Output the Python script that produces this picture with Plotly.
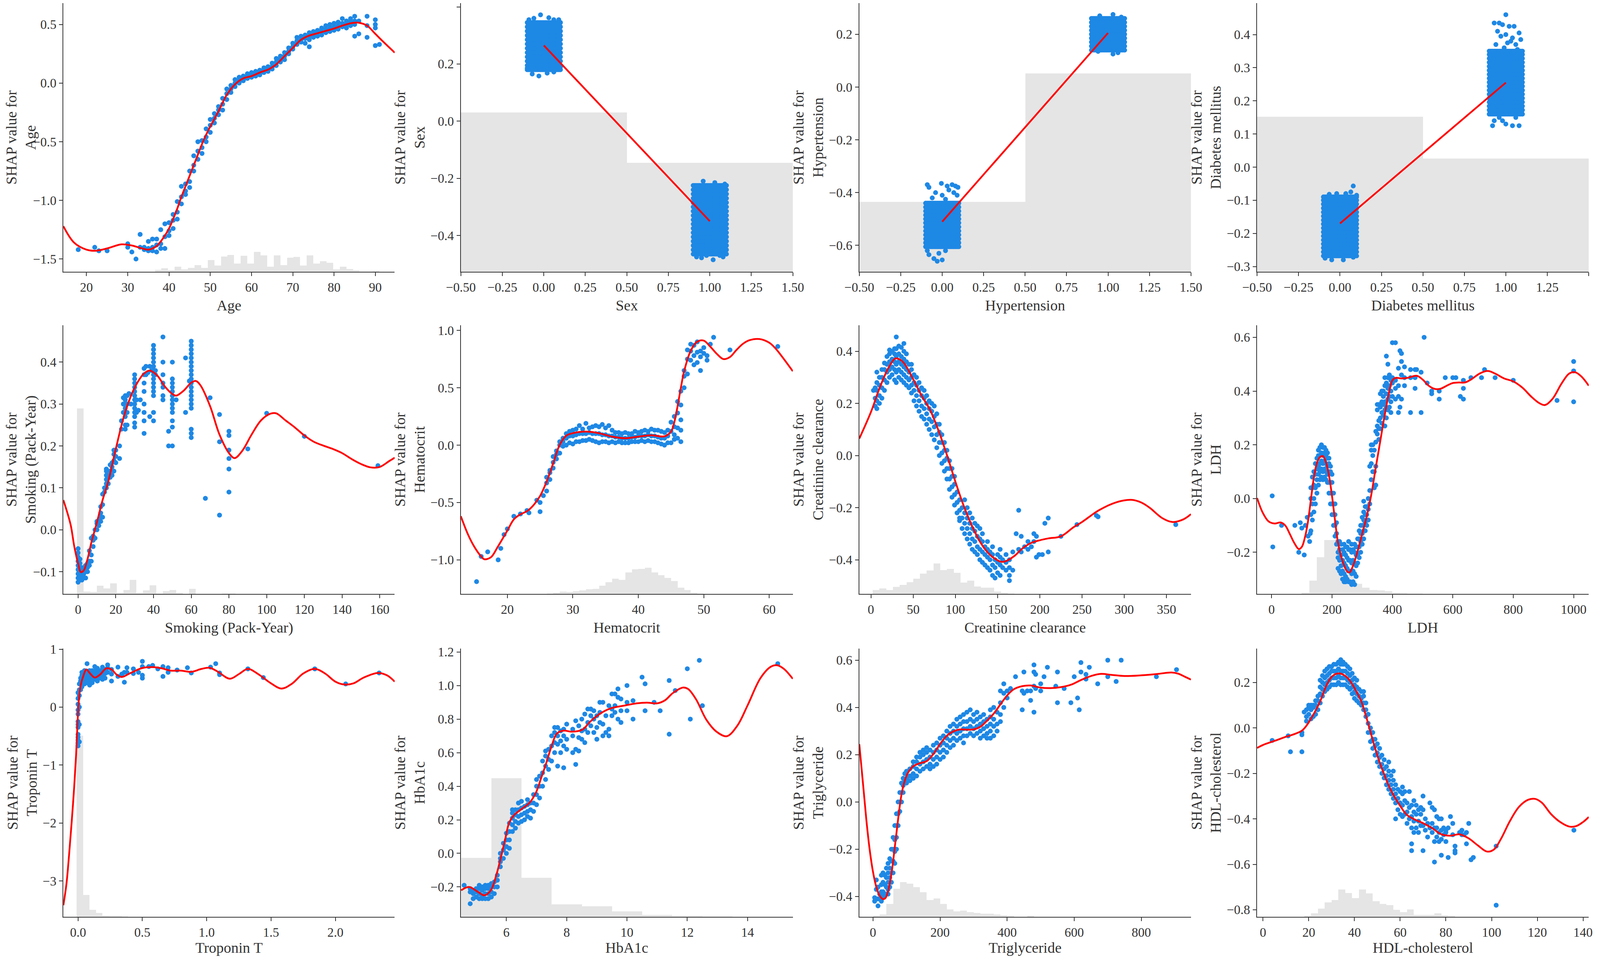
import plotly.graph_objects as go

BLUE = "#1E88E5"
RED = "#FF0000"
GREY = "#E5E5E5"
INK = "#333333"
FONT = "Liberation Serif"

FEATURES = ["Age", "Sex", "Hypertension", "Diabetes mellitus",
            "Smoking (Pack-Year)", "Hematocrit", "Creatinine clearance", "LDH",
            "Troponin T", "HbA1c", "Triglyceride", "HDL-cholesterol"]

# ***** Age ***** #
AGE_PTS = [
    (18, [-1.42]), (22, [-1.40]), (23, [-1.43]), (25, [-1.43]), (30, [-1.37, -1.40]),
    (31, [-1.44]), (32, [-1.50]), (33, [-1.29, -1.40]), (34, [-1.40, -1.42]),
    (35, [-1.35, -1.41, -1.43]), (36, [-1.33, -1.40, -1.43]), (37, [-1.33, -1.38, -1.44]),
    (38, [-1.25, -1.37, -1.41]), (39, [-1.20, -1.31, -1.41]), (40, [-1.19, -1.26, -1.30]),
    (41, [-1.12, -1.17, -1.24]), (42, [-1.01, -1.10, -1.16]), (43, [-0.88, -0.97, -1.03]),
    (44, [-0.86, -0.92, -0.95]), (45, [-0.75, -0.84, -0.89]), (46, [-0.62, -0.70, -0.75]),
    (47, [-0.50, -0.58, -0.65]), (48, [-0.49, -0.55, -0.60]), (49, [-0.39, -0.46, -0.50]),
    (50, [-0.36, -0.42, -0.31]), (51, [-0.26, -0.34, -0.30]), (52, [-0.20, -0.27, -0.23]),
    (53, [-0.18, -0.23, -0.13]), (54, [-0.09, -0.14, -0.05]), (55, [-0.02, -0.08, -0.05]),
    (56, [0.03, -0.03, 0.0]), (57, [0.05, 0.0, 0.02]), (58, [0.06, 0.02, 0.04]),
    (59, [0.08, 0.04, 0.06]), (60, [0.09, 0.05, 0.07]), (61, [0.10, 0.06, 0.08]),
    (62, [0.11, 0.07, 0.09]), (63, [0.13, 0.09, 0.11]), (64, [0.14, 0.10, 0.12]),
    (65, [0.17, 0.12, 0.14]), (66, [0.21, 0.15, 0.18]), (67, [0.23, 0.18, 0.20]),
    (68, [0.26, 0.20, 0.23]), (69, [0.30, 0.25, 0.27]), (70, [0.34, 0.29, 0.31]),
    (71, [0.39, 0.33, 0.36]), (72, [0.40, 0.35, 0.37]), (73, [0.41, 0.34, 0.38]),
    (74, [0.43, 0.37, 0.31, 0.40]), (75, [0.44, 0.39, 0.41]), (76, [0.45, 0.40, 0.43]),
    (77, [0.47, 0.41, 0.44]), (78, [0.49, 0.43, 0.46]), (79, [0.50, 0.44, 0.47]),
    (80, [0.51, 0.45, 0.48]), (81, [0.52, 0.46, 0.49]), (82, [0.55, 0.48, 0.51]),
    (83, [0.53, 0.47, 0.50]), (84, [0.55, 0.49, 0.52]), (85, [0.57, 0.50, 0.40, 0.53]),
    (86, [0.53, 0.42]), (88, [0.57, 0.49, 0.39]), (90, [0.54, 0.50, 0.47, 0.32]), (91, [0.33]),
]
AGE_CURVE_X = [14.4, 17, 20, 22, 25, 28.5, 31, 33, 35, 36, 37, 38, 39, 40, 41, 42, 43, 44, 45,
               46, 47, 48, 49, 50, 52, 54, 56, 58, 60, 62, 64, 65, 66, 68, 70, 72, 74, 76, 78,
               80, 82, 84, 85, 86, 88, 90, 92, 94.7]
AGE_CURVE_Y = [-1.22, -1.36, -1.42, -1.43, -1.41, -1.375, -1.385, -1.405, -1.42, -1.41, -1.39,
               -1.35, -1.30, -1.24, -1.16, -1.07, -0.97, -0.88, -0.79, -0.70, -0.61, -0.52,
               -0.44, -0.37, -0.24, -0.10, -0.01, 0.04, 0.06, 0.09, 0.115, 0.135, 0.16, 0.23,
               0.30, 0.37, 0.405, 0.425, 0.445, 0.465, 0.49, 0.51, 0.515, 0.515, 0.49, 0.42,
               0.35, 0.26]
AGE_HIST = [0.008, 0.013, 0.006, 0.019, 0.009, 0.014, 0.025, 0.014, 0.044, 0.023, 0.057,
            0.062, 0.03, 0.059, 0.03, 0.074, 0.061, 0.019, 0.061, 0.025, 0.053, 0.055, 0.023,
            0.061, 0.03, 0.039, 0.034, 0.009, 0.019, 0.011, 0.006, 0.002, 0.001, 0.003]
AGE_BIN = (37.4, 1.6)

# ***** binary features (0 / 1) ***** #
JITTER = [-0.1, -0.09, -0.08, -0.07, -0.06, -0.05, -0.04, -0.03, -0.02, -0.01, 0.0,
          0.01, 0.02, 0.03, 0.04, 0.05, 0.06, 0.07, 0.08, 0.09, 0.1]

SEX_ROWS_0 = [0.18, 0.195, 0.21, 0.225, 0.24, 0.255, 0.27, 0.285, 0.30, 0.315, 0.33, 0.345]
SEX_ROWS_1 = [-0.465, -0.45, -0.435, -0.42, -0.405, -0.39, -0.375, -0.36, -0.345, -0.33,
              -0.315, -0.30, -0.285, -0.27, -0.255, -0.24, -0.225]
SEX_EXTRA_X = [-0.09, -0.06, -0.02, 0.03, 0.06, 0.09, -0.07, -0.03, 0.02, 0.06, -0.1, 0.1,
               0.96, 1.03, 1.09, 0.92, 0.95, 0.98, 1.02, 1.06, 1.08]
SEX_EXTRA_Y = [0.355, 0.36, 0.372, 0.362, 0.355, 0.355, 0.165, 0.158, 0.168, 0.172, 0.185, 0.19,
               -0.21, -0.215, -0.22, -0.475, -0.478, -0.47, -0.485, -0.47, -0.475]
SEX_LINE_Y = [0.265, -0.35]
SEX_HIST = [0.593, 0.406]

HYP_ROWS_0 = [-0.605, -0.59, -0.575, -0.56, -0.545, -0.53, -0.515, -0.50, -0.485, -0.47,
              -0.455, -0.44]
HYP_ROWS_1 = [0.14, 0.155, 0.17, 0.185, 0.20, 0.215, 0.23, 0.245, 0.26]
HYP_EXTRA_X = [-0.09, -0.08, -0.005, 0.03, 0.06, 0.08, 0.095, -0.04, 0.0, 0.07, 0.09, 0.04,
               -0.06, 0.02, -0.09, -0.08, -0.05, -0.03, 0.0, -0.02, 0.02,
               0.95, 1.03, 1.08, 1.03, 1.06, 0.94]
HYP_EXTRA_Y = [-0.37, -0.38, -0.365, -0.375, -0.37, -0.375, -0.38, -0.40, -0.41, -0.40, -0.41,
               -0.39, -0.42, -0.425, -0.62, -0.635, -0.65, -0.66, -0.655, -0.63, -0.62,
               0.27, 0.275, 0.265, 0.125, 0.13, 0.135]
HYP_LINE_Y = [-0.51, 0.205]
HYP_HIST = [0.260, 0.738]

DM_ROWS_0 = [-0.268, -0.256, -0.244, -0.232, -0.220, -0.208, -0.196, -0.184, -0.172, -0.160,
             -0.148, -0.136, -0.124, -0.112, -0.100, -0.090]
DM_ROWS_1 = [0.16, 0.172, 0.184, 0.196, 0.208, 0.22, 0.232, 0.244, 0.256, 0.268, 0.28, 0.292,
             0.304, 0.316, 0.328, 0.34, 0.35]
DM_EXTRA_X = [0.08, 0.065, 0.035, -0.02, -0.065, 0.1, -0.09, -0.05, 0.02, 0.08, 0.09,
              1.0, 0.93, 0.96, 0.98, 1.02, 1.05, 1.08, 0.95, 0.97, 1.0, 1.04, 1.01, 1.03, 1.09,
              0.94, 1.06, 0.99, 1.07, 0.93, 0.92, 0.96, 0.98, 1.0, 1.04, 1.08, 1.06, 0.95]
DM_EXTRA_Y = [-0.057, -0.075, -0.08, -0.08, -0.082, -0.085, -0.275, -0.28, -0.28, -0.272, -0.24,
              0.46, 0.435, 0.435, 0.43, 0.425, 0.425, 0.405, 0.41, 0.395, 0.40, 0.39, 0.375,
              0.38, 0.385, 0.37, 0.37, 0.36, 0.355, 0.14, 0.125, 0.15, 0.14, 0.13, 0.125, 0.125,
              0.15, 0.16]
DM_LINE_Y = [-0.17, 0.255]
DM_HIST = [0.577, 0.421]

# ***** Smoking ***** #
SMK_PTS = [
    (0, [-0.125, -0.115, -0.105, -0.095, -0.085, -0.075, -0.065, -0.055, -0.045]),
    (1, [-0.12, -0.11, -0.10, -0.09, -0.08, -0.07]), (2, [-0.12, -0.11, -0.10, -0.09]),
    (3, [-0.115, -0.105, -0.095]), (4, [-0.115, -0.10, -0.085]), (5, [-0.10, -0.09, -0.08]),
    (6, [-0.085, -0.075, -0.05]), (7, [-0.075, -0.06, -0.02]), (8, [-0.04, -0.025, -0.015]),
    (9, [-0.02, 0.0]), (10, [0.0, 0.015, 0.02]), (11, [0.01, 0.02]),
    (12, [0.02, 0.03, 0.04, 0.055]), (13, [0.03, 0.06, 0.085]), (14, [0.09, 0.10]),
    (15, [0.10, 0.11, 0.12, 0.13, 0.14, 0.145]), (16, [0.11, 0.13]), (17, [0.125, 0.14, 0.155]),
    (18, [0.13, 0.15, 0.16]), (19, [0.14, 0.165, 0.18, 0.19]), (20, [0.16, 0.175, 0.19]),
    (22, [0.17, 0.20]), (23, [0.24, 0.26]), (24, [0.28, 0.30, 0.315]),
    (25, [0.24, 0.25, 0.27, 0.29, 0.31, 0.32]), (26, [0.25, 0.28, 0.30, 0.32]), (27, [0.325]),
    (28, [0.30]),
    (30, [0.245, 0.255, 0.27, 0.28, 0.29, 0.30, 0.31, 0.32, 0.33, 0.34, 0.35, 0.36, 0.37]),
    (31, [0.28, 0.31]), (32, [0.285]), (33, [0.31]),
    (35, [0.23, 0.26, 0.28, 0.30, 0.33, 0.35, 0.37, 0.385]), (36, [0.37, 0.39]), (37, [0.375]),
    (38, [0.27, 0.39]), (39, [0.38]),
    (40, [0.26, 0.28, 0.32, 0.33, 0.34, 0.35, 0.36, 0.37, 0.38, 0.39, 0.40, 0.41, 0.42, 0.43, 0.44]),
    (41, [0.37, 0.38]), (45, [0.31, 0.32, 0.34, 0.35, 0.37, 0.40, 0.46]), (48, [0.20, 0.235]),
    (50, [0.20, 0.245, 0.26, 0.28, 0.29, 0.30, 0.31, 0.32, 0.33, 0.34, 0.35, 0.36, 0.40]),
    (52, [0.31]), (57, [0.28, 0.41]), (59, [0.355]),
    (60, [0.22, 0.23, 0.24, 0.29, 0.30, 0.31, 0.32, 0.33, 0.34, 0.35, 0.36, 0.37, 0.38, 0.39,
          0.40, 0.41, 0.42, 0.43, 0.44, 0.45]),
    (67.5, [0.075]), (70, [0.315]), (75, [0.035, 0.21, 0.275]),
    (80, [0.09, 0.145, 0.17, 0.19, 0.225, 0.235]), (90, [0.193]), (100, [0.278]),
    (120, [0.223]), (159, [0.153]),
]
SMK_CURVE_X = [-7.8, -4, -2, 0, 1.5, 3, 5, 7, 10, 13, 16, 20, 25, 30, 35, 38, 42, 46, 50, 52,
               56, 60, 62.5, 65, 70, 75, 80, 83, 87, 92, 97, 102, 105, 110, 115, 120, 125, 130,
               135, 140, 145, 150, 155, 160, 165, 167.9]
SMK_CURVE_Y = [0.071, 0.013, -0.04, -0.08, -0.101, -0.097, -0.07, -0.031, 0.018, 0.071, 0.115,
               0.193, 0.281, 0.339, 0.373, 0.38, 0.368, 0.342, 0.324, 0.32, 0.332, 0.351, 0.355,
               0.344, 0.295, 0.227, 0.183, 0.171, 0.188, 0.227, 0.261, 0.277, 0.278, 0.261,
               0.244, 0.225, 0.21, 0.201, 0.193, 0.183, 0.169, 0.157, 0.149, 0.15, 0.164, 0.172]
SMK_HIST = [0.69, 0.009, 0.008, 0.03, 0.021, 0.04, 0.003, 0.014, 0.052, 0.003, 0.013, 0.032,
            0.002, 0.011, 0.015, 0.003, 0.0, 0.019, 0.0, 0.0, 0.0, 0.0, 0.001, 0.002]
SMK_BIN = (1.25, 3.5)

# ***** Hematocrit ***** #
HCT_PTS = [
    (15.3, [-1.19]), (16, [-0.97]), (17, [-0.93]), (18.6, [-1.0]), (19, [-0.9]), (19.5, [-0.78]),
    (20, [-0.73]), (21, [-0.62]), (22, [-0.60]), (23, [-0.57]), (23.3, [-0.59]),
    (24.5, [-0.48]), (25, [-0.58, -0.50]), (25.5, [-0.44]),
    (26, [-0.40, -0.33, -0.28]), (26.5, [-0.30, -0.24, -0.22]), (27, [-0.20, -0.15, -0.10]),
    (27.5, [-0.12, -0.08, -0.05]), (28, [-0.07, 0.0, 0.03]), (28.5, [-0.01, 0.03, 0.06]),
    (29, [0.0, 0.06, 0.10]), (29.5, [0.02, 0.08, 0.12]), (30, [0.01, 0.08, 0.13]),
    (30.5, [0.03, 0.09, 0.14]), (31, [0.03, 0.10, 0.17]), (31.5, [0.04, 0.10, 0.14]),
    (32, [0.04, 0.10, 0.19]), (32.5, [0.05, 0.11, 0.15]), (33, [0.04, 0.10, 0.16]),
    (33.5, [0.03, 0.10, 0.17]), (34, [0.02, 0.10, 0.16]), (34.5, [0.03, 0.09, 0.18]),
    (35, [0.03, 0.09, 0.15]), (35.5, [0.02, 0.08, 0.17]), (36, [0.03, 0.08, 0.13]),
    (36.5, [0.02, 0.07, 0.11]), (37, [0.03, 0.07, 0.11]), (37.5, [0.02, 0.06, 0.10]),
    (38, [0.02, 0.06, 0.11]), (38.5, [0.02, 0.06, 0.10]), (39, [0.03, 0.07, 0.10]),
    (39.5, [0.03, 0.07, 0.12]), (40, [0.03, 0.08, 0.11]), (40.5, [0.04, 0.08, 0.12]),
    (41, [0.03, 0.08, 0.13]), (41.5, [0.04, 0.09, 0.12]), (42, [0.03, 0.08, 0.14]),
    (42.5, [0.03, 0.08, 0.13]), (43, [0.02, 0.07, 0.13]), (43.5, [0.01, 0.06, 0.12]),
    (44, [0.0, 0.06, 0.11]), (44.5, [0.02, 0.08, 0.13]), (45, [0.02, 0.12, 0.20]),
    (45.5, [0.05, 0.09, 0.16, 0.25]), (46, [0.06, 0.15, 0.28, 0.38]),
    (46.5, [0.03, 0.13, 0.22, 0.35, 0.47]), (47, [0.50, 0.60, 0.65]),
    (47.5, [0.62, 0.75, 0.83]), (48, [0.74, 0.82, 0.88]), (48.5, [0.70, 0.78, 0.87]),
    (49, [0.72, 0.81, 0.90]), (49.5, [0.65, 0.77, 0.82]), (50, [0.80, 0.85]),
    (50.5, [0.74, 0.78]), (51, [0.88]), (51.5, [0.94]), (54, [0.83]), (61.3, [0.86]),
]
HCT_CURVE_X = [12.9, 14, 15, 16, 16.5, 17.5, 18.5, 20, 21, 22, 23, 24, 25, 26, 27, 28, 29, 30,
               32, 34, 36, 38, 40, 42, 44, 45, 45.5, 46, 46.5, 47, 48, 49, 50, 51, 52, 53, 54,
               55, 56, 57, 58.5, 60, 61, 62, 63.6]
HCT_CURVE_Y = [-0.62, -0.78, -0.89, -0.97, -0.995, -0.977, -0.89, -0.745, -0.647, -0.603,
               -0.576, -0.523, -0.443, -0.318, -0.158, 0.003, 0.083, 0.104, 0.118, 0.104, 0.074,
               0.06, 0.074, 0.086, 0.077, 0.118, 0.2, 0.34, 0.5, 0.644, 0.822, 0.902, 0.911,
               0.858, 0.795, 0.75, 0.768, 0.83, 0.884, 0.915, 0.925, 0.893, 0.84, 0.768, 0.644]
HCT_HIST = [0.002, 0.005, 0.009, 0.008, 0.01, 0.013, 0.017, 0.019, 0.03, 0.043, 0.057, 0.052,
            0.08, 0.091, 0.093, 0.097, 0.08, 0.07, 0.059, 0.048, 0.023, 0.014, 0.005, 0.002]
HCT_BIN = (26.5, 1.0)

# ***** Creatinine clearance ***** #
CC_PTS = [
    (3, [0.25]), (5, [0.19, 0.22, 0.26]), (7, [0.18, 0.21, 0.25, 0.28, 0.32]),
    (10, [0.20, 0.23, 0.27, 0.30]), (13, [0.22, 0.26, 0.30, 0.33]),
    (16, [0.25, 0.29, 0.33, 0.355]), (19, [0.28, 0.32, 0.35, 0.38]),
    (22, [0.30, 0.33, 0.36, 0.39, 0.405]), (25, [0.31, 0.34, 0.37, 0.40]),
    (28, [0.29, 0.33, 0.36, 0.39, 0.41]), (30, [0.28, 0.32, 0.35, 0.38, 0.41, 0.455]),
    (33, [0.30, 0.33, 0.36, 0.39, 0.42]), (36, [0.29, 0.32, 0.35, 0.38, 0.415]),
    (39, [0.28, 0.31, 0.34, 0.37, 0.40, 0.43]), (42, [0.27, 0.30, 0.33, 0.36, 0.39]),
    (45, [0.26, 0.29, 0.32, 0.35]), (48, [0.24, 0.27, 0.30, 0.33, 0.35]),
    (51, [0.21, 0.25, 0.28, 0.31]), (54, [0.19, 0.23, 0.27, 0.30]),
    (57, [0.17, 0.21, 0.25, 0.28]), (60, [0.15, 0.19, 0.23, 0.26]),
    (63, [0.14, 0.18, 0.22, 0.25]), (66, [0.12, 0.16, 0.20, 0.23]),
    (69, [0.10, 0.14, 0.18, 0.21]), (72, [0.08, 0.13, 0.17, 0.20]),
    (75, [0.06, 0.11, 0.15, 0.19]), (78, [0.03, 0.08, 0.12, 0.16]),
    (81, [0.0, 0.05, 0.09, 0.12]), (84, [-0.03, 0.01, 0.05, 0.08]),
    (87, [-0.06, -0.02, 0.02, 0.05]), (90, [-0.09, -0.05, -0.01, 0.02]),
    (93, [-0.13, -0.09, -0.05, -0.02]), (96, [-0.16, -0.12, -0.08, -0.05]),
    (99, [-0.19, -0.15, -0.11, -0.08]), (102, [-0.22, -0.18, -0.14]),
    (105, [-0.25, -0.21, -0.17, -0.24]), (108, [-0.28, -0.24, -0.20]),
    (111, [-0.30, -0.26, -0.22, -0.17]), (114, [-0.32, -0.28, -0.24, -0.20]),
    (117, [-0.34, -0.30, -0.26, -0.22]), (120, [-0.36, -0.32, -0.28, -0.24]),
    (123, [-0.37, -0.33, -0.29, -0.26]), (126, [-0.38, -0.35, -0.31, -0.27]),
    (129, [-0.40, -0.36, -0.32, -0.28]), (132, [-0.41, -0.37, -0.33, -0.30]),
    (135, [-0.42, -0.38, -0.35]), (138, [-0.43, -0.39, -0.36, -0.33]),
    (141, [-0.44, -0.40, -0.37]), (144, [-0.46, -0.42, -0.38, -0.35]),
    (147, [-0.47, -0.43, -0.40]), (150, [-0.45, -0.41, -0.38]),
    (153, [-0.46, -0.42, -0.39, -0.36]), (156, [-0.43, -0.40]), (160, [-0.44, -0.41, -0.38]),
    (164, [-0.48, -0.46, -0.43, -0.40]), (168, [-0.44, -0.37]), (172, [-0.30]),
    (175, [-0.21, -0.36]), (178, [-0.31, -0.37]), (182, [-0.35]), (186, [-0.33, -0.36]),
    (190, [-0.35]), (193, [-0.30, -0.33]), (196, [-0.31, -0.39]), (199, [-0.38]),
    (203, [-0.38]), (206, [-0.26]), (210, [-0.24, -0.37]), (225, [-0.31]), (244, [-0.265]),
    (267, [-0.23]), (269, [-0.235]), (361, [-0.265]),
]
CC_CURVE_X = [-13.8, 0, 10, 20, 28, 30, 35, 40, 50, 60, 70, 80, 90, 100, 110, 120, 130, 140,
              150, 155, 160, 170, 180, 190, 200, 210, 225, 240, 250, 270, 290, 308, 320, 330,
              345, 357, 370, 379]
CC_CURVE_Y = [0.065, 0.167, 0.257, 0.332, 0.371, 0.373, 0.367, 0.351, 0.293, 0.23, 0.175, 0.096,
              0.002, -0.10, -0.194, -0.272, -0.335, -0.378, -0.402, -0.408, -0.405, -0.385,
              -0.355, -0.335, -0.325, -0.318, -0.31, -0.275, -0.255, -0.21, -0.18, -0.17,
              -0.18, -0.20, -0.24, -0.255, -0.245, -0.225]
CC_HIST = [0.015, 0.02, 0.015, 0.027, 0.034, 0.044, 0.057, 0.076, 0.087, 0.113, 0.089, 0.093,
           0.078, 0.042, 0.049, 0.028, 0.024, 0.024, 0.009, 0.005, 0.002]
CC_BIN = (6, 8)

# ***** LDH ***** #
LDH_PTS = [
    (2, [0.01]), (4, [-0.18]), (33, [-0.10]), (77, [-0.10]), (90, [-0.20]), (95, [-0.09]),
    (100, [-0.11]), (108, [-0.21]), (112, [-0.10]), (118, [-0.07]), (121, [-0.14]),
    (126, [-0.16]), (128, [-0.13]),
    (130, [-0.12, -0.06, 0.0, 0.04]), (135, [-0.08, -0.02, 0.04, 0.08]),
    (140, [-0.05, 0.0, 0.05, 0.10]), (145, [-0.02, 0.04, 0.09, 0.13]),
    (150, [0.02, 0.07, 0.11, 0.15]), (155, [0.05, 0.09, 0.12, 0.16, 0.18]),
    (160, [0.07, 0.10, 0.13, 0.16, 0.19]), (165, [0.08, 0.11, 0.14, 0.17, 0.20]),
    (170, [0.07, 0.10, 0.13, 0.16, 0.19]), (175, [0.08, 0.11, 0.14, 0.17, 0.19]),
    (180, [0.07, 0.10, 0.13, 0.16, 0.18]), (185, [0.06, 0.09, 0.12, 0.15, 0.17]),
    (190, [0.02, 0.06, 0.10, 0.13, 0.15]), (195, [-0.02, 0.02, 0.06, 0.10, 0.12]),
    (200, [-0.06, -0.02, 0.02, 0.06, 0.09]), (205, [-0.10, -0.06, -0.02, 0.02]),
    (210, [-0.14, -0.10, -0.06, -0.02]), (215, [-0.17, -0.13, -0.09]),
    (220, [-0.26, -0.22, -0.20, -0.16]), (225, [-0.27, -0.23, -0.19, -0.16]),
    (230, [-0.28, -0.25, -0.21, -0.17]), (235, [-0.30, -0.27, -0.23, -0.19]),
    (240, [-0.31, -0.28, -0.24, -0.20, -0.17]), (245, [-0.31, -0.29, -0.25, -0.21, -0.18]),
    (250, [-0.30, -0.26, -0.22, -0.18]), (255, [-0.31, -0.27, -0.23, -0.19, -0.16]),
    (260, [-0.31, -0.27, -0.23, -0.19]), (265, [-0.32, -0.28, -0.24, -0.20, -0.17]),
    (270, [-0.31, -0.27, -0.23, -0.19]), (275, [-0.32, -0.28, -0.24, -0.20, -0.17]),
    (280, [-0.29, -0.25, -0.21, -0.18]), (285, [-0.24, -0.21, -0.18, -0.15]),
    (290, [-0.22, -0.18, -0.15, -0.12]), (295, [-0.20, -0.16, -0.13, -0.10]),
    (300, [-0.17, -0.13, -0.10, -0.07]), (305, [-0.15, -0.12, -0.08, -0.05, -0.01]),
    (310, [-0.12, -0.09, -0.06, -0.03]), (315, [-0.10, -0.06, -0.03]),
    (320, [-0.08, -0.04, 0.0]), (325, [-0.02, 0.03, 0.12]), (330, [0.07, 0.13, 0.18, 0.20]),
    (335, [0.10, 0.16, 0.20]), (340, [0.04, 0.10, 0.18]), (345, [0.05, 0.12, 0.21, 0.25]),
    (350, [0.24, 0.27, 0.33, 0.35]), (355, [0.22, 0.26, 0.29, 0.35]),
    (360, [0.26, 0.30, 0.34, 0.39]), (365, [0.28, 0.32, 0.36, 0.40]),
    (370, [0.31, 0.35, 0.38, 0.40]), (375, [0.27, 0.33, 0.36, 0.42, 0.45]),
    (380, [0.30, 0.34, 0.39, 0.43, 0.53]), (385, [0.33, 0.37, 0.41, 0.45, 0.50]),
    (390, [0.34, 0.38, 0.42, 0.46]), (395, [0.32, 0.36, 0.40, 0.44]),
    (400, [0.38, 0.43, 0.45, 0.58]), (410, [0.37, 0.41, 0.44, 0.58]),
    (420, [0.32, 0.38, 0.42, 0.485]), (425, [0.34, 0.55]), (430, [0.37, 0.46, 0.51, 0.54]),
    (440, [0.42, 0.45, 0.49]), (460, [0.32, 0.45, 0.48]), (475, [0.41, 0.45, 0.48]),
    (480, [0.48]), (495, [0.32, 0.47]), (505, [0.60]), (515, [0.43]), (530, [0.39, 0.40]),
    (555, [0.37, 0.40]), (575, [0.45]), (600, [0.45]), (610, [0.45]), (625, [0.38]),
    (635, [0.37, 0.41, 0.44]), (660, [0.45]), (695, [0.45]), (705, [0.48]), (740, [0.45]),
    (800, [0.44]), (945, [0.365]), (1000, [0.36, 0.475, 0.51]),
]
LDH_CURVE_X = [-48, -30, -10, 10, 30, 45, 60, 75, 90, 100, 110, 120, 130, 140, 150, 160, 170,
               180, 190, 200, 210, 220, 235, 250, 258, 270, 285, 300, 315, 330, 345, 360, 375,
               390, 400, 410, 430, 450, 480, 500, 520, 540, 560, 580, 600, 620, 640, 660, 690,
               715, 740, 770, 800, 830, 860, 885, 905, 930, 960, 985, 1005, 1025, 1050]
LDH_CURVE_Y = [0.002, -0.051, -0.085, -0.093, -0.089, -0.10, -0.131, -0.165, -0.188, -0.18,
               -0.146, -0.089, -0.005, 0.078, 0.132, 0.154, 0.158, 0.135, 0.086, 0.01, -0.081,
               -0.165, -0.233, -0.271, -0.275, -0.249, -0.195, -0.131, -0.066, 0.014, 0.116,
               0.215, 0.314, 0.401, 0.44, 0.449, 0.447, 0.449, 0.457, 0.443, 0.42, 0.408, 0.409,
               0.42, 0.43, 0.432, 0.432, 0.443, 0.466, 0.475, 0.465, 0.447, 0.436, 0.413, 0.379,
               0.356, 0.348, 0.371, 0.428, 0.465, 0.47, 0.455, 0.42]
LDH_HIST = [0.004, 0.049, 0.137, 0.2, 0.2, 0.11, 0.072, 0.038, 0.024, 0.015, 0.013, 0.01,
            0.005, 0.003, 0.002, 0.002]
LDH_BIN = (112.5, 25)

# ***** Troponin T ***** #
TNT_PTS = [
    (0.0, [-0.67, -0.62, -0.57, -0.52, -0.47, -0.35, -0.30, -0.25, -0.12, -0.05, 0.05, 0.15, 0.25]),
    (0.01, [-0.6, -0.3, 0.0, 0.2, 0.3, 0.4]), (0.02, [0.3, 0.4, 0.45, 0.5]),
    (0.03, [0.35, 0.45, 0.5, 0.55, 0.6]), (0.05, [0.40, 0.48, 0.55, 0.6, 0.63]),
    (0.07, [0.42, 0.5, 0.56, 0.62, 0.75]), (0.09, [0.38, 0.45, 0.52, 0.58, 0.63]),
    (0.11, [0.42, 0.5, 0.57, 0.63]), (0.13, [0.48, 0.55, 0.62, 0.7]),
    (0.15, [0.45, 0.52, 0.6, 0.67]), (0.17, [0.5, 0.56, 0.63]), (0.19, [0.48, 0.55, 0.62, 0.69]),
    (0.21, [0.5, 0.58, 0.65]), (0.23, [0.6, 0.68, 0.73]), (0.26, [0.45, 0.57, 0.65]),
    (0.31, [0.53, 0.69]), (0.34, [0.55, 0.57]), (0.36, [0.43, 0.6]), (0.38, [0.6, 0.68]),
    (0.43, [0.58, 0.66]), (0.47, [0.6]), (0.5, [0.5, 0.55, 0.7, 0.79]), (0.55, [0.7]),
    (0.58, [0.72]), (0.62, [0.66]), (0.66, [0.53, 0.7]), (0.7, [0.6, 0.68]), (0.77, [0.64]),
    (0.85, [0.68]), (0.88, [0.59]), (1.03, [0.69]), (1.07, [0.75]), (1.1, [0.56, 0.59]),
    (1.32, [0.66]), (1.44, [0.51]), (1.84, [0.66]), (2.08, [0.40]), (2.34, [0.59]),
]
TNT_CURVE_X = [-0.114, -0.09, -0.07, -0.05, -0.03, -0.015, -0.005, 0.005, 0.02, 0.04, 0.065,
               0.09, 0.13, 0.17, 0.22, 0.26, 0.3, 0.34, 0.4, 0.5, 0.58, 0.65, 0.72, 0.8, 0.88,
               0.96, 1.02, 1.08, 1.18, 1.25, 1.32, 1.4, 1.5, 1.58, 1.66, 1.75, 1.84, 1.92, 2.0,
               2.07, 2.14, 2.22, 2.33, 2.4, 2.461]
TNT_CURVE_Y = [-3.42, -3.05, -2.56, -2.0, -1.38, -0.82, -0.33, 0.09, 0.37, 0.53, 0.65, 0.59,
               0.51, 0.56, 0.67, 0.65, 0.56, 0.52, 0.58, 0.675, 0.69, 0.67, 0.63, 0.63, 0.61,
               0.66, 0.68, 0.62, 0.49, 0.57, 0.66, 0.57, 0.41, 0.32, 0.40, 0.58, 0.66, 0.58,
               0.44, 0.39, 0.41, 0.51, 0.59, 0.55, 0.44]
TNT_HIST = [0.675, 0.081, 0.026, 0.015, 0.004, 0.002, 0.002, 0.001]
TNT_BIN = (0.015, 0.05)

# ***** HbA1c ***** #
HBA_PTS = [
    (4.6, [-0.19]), (4.8, [-0.30, -0.23, -0.21]), (4.9, [-0.27, -0.24, -0.22]),
    (5.0, [-0.26, -0.23, -0.21]), (5.1, [-0.27, -0.24, -0.21, -0.19]),
    (5.2, [-0.27, -0.25, -0.22, -0.20]), (5.3, [-0.27, -0.24, -0.21, -0.19]),
    (5.4, [-0.27, -0.24, -0.21, -0.19]), (5.5, [-0.26, -0.23, -0.20, -0.18]),
    (5.6, [-0.24, -0.20, -0.17]), (5.7, [-0.20, -0.16, -0.13]), (5.8, [-0.08, -0.05, -0.03, 0.0]),
    (5.9, [-0.03, 0.02, 0.06]), (6.0, [0.0, 0.04, 0.08, 0.12]), (6.1, [0.03, 0.08, 0.13, 0.18]),
    (6.2, [0.13, 0.17, 0.21, 0.24, 0.26]), (6.3, [0.15, 0.19, 0.23, 0.26]),
    (6.4, [0.18, 0.22, 0.26, 0.30]), (6.5, [0.19, 0.23, 0.27, 0.31]), (6.6, [0.20, 0.24, 0.28]),
    (6.7, [0.22, 0.25, 0.29, 0.32]), (6.8, [0.21, 0.26, 0.30]), (6.9, [0.25, 0.30, 0.35]),
    (7.0, [0.29, 0.35, 0.40, 0.44]), (7.1, [0.33, 0.40, 0.46]), (7.2, [0.40, 0.48, 0.55]),
    (7.3, [0.44, 0.52, 0.58, 0.61]), (7.4, [0.50, 0.56, 0.62]), (7.5, [0.55, 0.64, 0.70]),
    (7.6, [0.60, 0.66, 0.72, 0.75]), (7.7, [0.52, 0.65, 0.70, 0.75]), (7.8, [0.60, 0.67, 0.73]),
    (7.9, [0.51, 0.64, 0.70, 0.74]), (8.0, [0.62, 0.68, 0.77]), (8.2, [0.60, 0.70, 0.74]),
    (8.3, [0.53, 0.62, 0.79]), (8.4, [0.61, 0.69, 0.76]), (8.5, [0.68, 0.73, 0.80]),
    (8.6, [0.66, 0.74, 0.83]), (8.7, [0.72, 0.78, 0.86]), (8.8, [0.76, 0.82, 0.86]),
    (8.9, [0.72, 0.80, 0.85]), (9.0, [0.68, 0.75, 0.82]), (9.1, [0.78, 0.84, 0.90]),
    (9.2, [0.70, 0.77, 0.90]), (9.3, [0.72, 0.82]), (9.4, [0.70, 0.74, 0.88]),
    (9.5, [0.82, 0.86, 0.95]), (9.6, [0.84, 0.88, 0.95]), (9.7, [0.80, 0.93, 0.98]),
    (9.8, [0.78, 0.85, 0.92]), (10.0, [0.85, 0.90, 1.0]), (10.2, [0.80, 0.91]),
    (10.5, [1.05]), (10.6, [0.85, 1.01]), (10.9, [0.90]), (11.1, [0.85]), (11.4, [0.71, 1.03]),
    (11.6, [0.97]), (12.0, [1.10]), (12.1, [0.80]), (12.4, [1.15]), (12.5, [0.88]),
    (15.0, [1.13]),
]
HBA_CURVE_X = [4.5, 4.76, 5.06, 5.27, 5.49, 5.66, 5.8, 5.96, 6.09, 6.26, 6.51, 6.77, 6.98, 7.15,
               7.33, 7.5, 7.67, 7.88, 8.18, 8.52, 8.78, 9.12, 9.46, 9.89, 10.32, 10.66, 11.0,
               11.26, 11.52, 11.86, 12.03, 12.29, 12.63, 12.97, 13.31, 13.66, 14.0, 14.43,
               14.77, 14.98, 15.2, 15.5]
HBA_CURVE_Y = [-0.22, -0.20, -0.23, -0.25, -0.218, -0.133, -0.037, 0.084, 0.181, 0.229, 0.265,
               0.302, 0.362, 0.447, 0.543, 0.64, 0.713, 0.731, 0.725, 0.737, 0.785, 0.834,
               0.864, 0.88, 0.894, 0.898, 0.894, 0.912, 0.955, 0.988, 0.979, 0.918, 0.797,
               0.725, 0.698, 0.761, 0.882, 1.045, 1.112, 1.121, 1.10, 1.04]
HBA_HIST = [0.219, 0.517, 0.145, 0.047, 0.039, 0.02, 0.0076, 0.0015, 0.001, 0.0, 0.0]
HBA_BIN = (5.0, 1.0)

# ***** Triglyceride ***** #
TG_PTS = [
    (5, [-0.405, -0.42]), (10, [-0.33, -0.37, -0.41]), (15, [-0.44, -0.41, -0.36]),
    (20, [-0.41, -0.39]), (25, [-0.31, -0.35, -0.38, -0.42]), (30, [-0.30, -0.34, -0.38, -0.40]),
    (35, [-0.31, -0.35, -0.39]), (40, [-0.28, -0.32, -0.36, -0.39]),
    (45, [-0.26, -0.30, -0.34, -0.37, -0.39]), (50, [-0.24, -0.28, -0.32, -0.36]),
    (55, [-0.20, -0.25, -0.30, -0.34]), (60, [-0.15, -0.20, -0.25, -0.30]),
    (65, [-0.10, -0.16, -0.21, -0.26]), (70, [-0.05, -0.10, -0.15, -0.20]),
    (75, [0.0, -0.05, -0.10]), (80, [0.04, 0.0, -0.04]), (85, [0.08, 0.04, 0.0]),
    (90, [0.10, 0.07, 0.04]), (95, [0.12, 0.09]), (100, [0.13, 0.10, 0.08]),
    (110, [0.14, 0.11, 0.09]), (120, [0.17, 0.15, 0.12, 0.10]), (130, [0.19, 0.17, 0.14, 0.11]),
    (140, [0.21, 0.19, 0.16, 0.13]), (150, [0.22, 0.20, 0.17, 0.14]),
    (160, [0.23, 0.21, 0.18, 0.15]), (170, [0.22, 0.19, 0.16, 0.14]),
    (180, [0.24, 0.21, 0.18, 0.15]), (190, [0.25, 0.22, 0.19, 0.16]),
    (200, [0.27, 0.24, 0.21, 0.18]), (210, [0.28, 0.25, 0.22, 0.19]),
    (220, [0.30, 0.27, 0.24, 0.21]), (230, [0.32, 0.29, 0.26, 0.23]),
    (240, [0.33, 0.30, 0.27, 0.24]), (250, [0.35, 0.32, 0.29, 0.26]),
    (260, [0.36, 0.33, 0.30, 0.27]), (270, [0.37, 0.34, 0.31, 0.28, 0.25]),
    (280, [0.38, 0.34, 0.31, 0.28]), (290, [0.39, 0.35, 0.32, 0.29]),
    (300, [0.37, 0.34, 0.31, 0.28]), (310, [0.38, 0.35, 0.32, 0.29]),
    (320, [0.36, 0.33, 0.30, 0.27]), (330, [0.37, 0.34, 0.31, 0.28]),
    (340, [0.35, 0.32, 0.29, 0.27]), (350, [0.39, 0.36, 0.33, 0.30, 0.27]),
    (360, [0.40, 0.35, 0.32, 0.28]), (370, [0.38, 0.33, 0.30]), (380, [0.47, 0.42, 0.37, 0.34]),
    (390, [0.50, 0.46, 0.40]), (400, [0.44, 0.47]), (410, [0.48]), (425, [0.53]),
    (445, [0.47, 0.39]), (450, [0.55, 0.46]), (460, [0.47]), (470, [0.47, 0.43]),
    (480, [0.38, 0.58, 0.55, 0.49]), (485, [0.54, 0.48]), (500, [0.50, 0.47]), (510, [0.53]),
    (520, [0.57]), (545, [0.49]), (550, [0.55, 0.42]), (570, [0.48]), (590, [0.42]),
    (600, [0.53]), (610, [0.44]), (615, [0.39]), (620, [0.55, 0.59]), (635, [0.52, 0.54]),
    (645, [0.57]), (670, [0.50]), (700, [0.60, 0.53]), (725, [0.51]), (740, [0.60]),
    (845, [0.53]), (905, [0.56]),
]
TG_CURVE_X = [-40.8, -30, -20, -10, 0, 10, 20, 30, 37, 45, 55, 65, 75, 85, 95, 105, 120, 140,
              160, 180, 200, 220, 240, 260, 280, 300, 320, 340, 360, 380, 400, 420, 445, 470,
              500, 530, 560, 590, 620, 650, 680, 710, 750, 800, 850, 890, 910, 930, 948]
TG_CURVE_Y = [0.245, 0.082, -0.072, -0.20, -0.295, -0.36, -0.397, -0.411, -0.407, -0.377,
              -0.304, -0.192, -0.072, 0.031, 0.091, 0.125, 0.151, 0.164, 0.173, 0.203, 0.245,
              0.28, 0.299, 0.307, 0.306, 0.307, 0.318, 0.344, 0.374, 0.413, 0.451, 0.477, 0.49,
              0.493, 0.484, 0.482, 0.486, 0.496, 0.516, 0.533, 0.542, 0.538, 0.533, 0.536,
              0.542, 0.548, 0.543, 0.53, 0.518]
TG_HIST = [0.004, 0.008, 0.048, 0.104, 0.129, 0.123, 0.111, 0.092, 0.062, 0.068, 0.048, 0.028,
           0.02, 0.023, 0.017, 0.014, 0.011, 0.012, 0.008, 0.005, 0.003, 0.0, 0.0, 0.003]
TG_BIN = (10, 20)

# ***** HDL-cholesterol ***** #
HDL_PTS = [
    (4, [-0.055]), (11, [-0.035]), (12, [-0.105]), (17, [-0.02, -0.03, -0.105]), (18, [0.07]),
    (19, [0.03, 0.05, 0.08]), (20, [0.06, 0.09, 0.10]), (21, [0.04, 0.08, 0.10]),
    (22, [0.05, 0.09, 0.10]), (23, [0.06, 0.10, 0.12]), (24, [0.08, 0.12, 0.14]),
    (25, [0.11, 0.15, 0.18, 0.21]), (26, [0.14, 0.17, 0.20, 0.23]), (27, [0.16, 0.19, 0.22, 0.25]),
    (28, [0.17, 0.20, 0.23, 0.26]), (29, [0.18, 0.21, 0.24, 0.27]), (30, [0.19, 0.22, 0.25, 0.27]),
    (31, [0.19, 0.22, 0.25, 0.28]), (32, [0.19, 0.22, 0.25, 0.28]), (33, [0.20, 0.23, 0.26, 0.29]),
    (34, [0.19, 0.22, 0.25, 0.28, 0.30]), (35, [0.19, 0.22, 0.25, 0.28, 0.29]),
    (36, [0.19, 0.22, 0.25, 0.28]), (37, [0.18, 0.21, 0.24, 0.27]), (38, [0.17, 0.20, 0.23, 0.26]),
    (39, [0.15, 0.18, 0.21, 0.24]), (40, [0.13, 0.16, 0.19, 0.22]), (41, [0.12, 0.15, 0.18, 0.21]),
    (42, [0.11, 0.14, 0.17]), (43, [0.10, 0.13, 0.16]), (44, [0.08, 0.11, 0.14, 0.16]),
    (45, [0.05, 0.08, 0.11]), (46, [-0.02, 0.02, 0.06]), (47, [-0.06, -0.02, 0.0]),
    (48, [-0.09, -0.05, -0.02]), (49, [-0.12, -0.08, -0.05]), (50, [-0.15, -0.11, -0.07]),
    (51, [-0.17, -0.13, -0.09]), (52, [-0.20, -0.16, -0.12]), (53, [-0.22, -0.18, -0.14]),
    (54, [-0.25, -0.21, -0.17]), (55, [-0.27, -0.23, -0.19, -0.15]), (56, [-0.29, -0.25, -0.21]),
    (57, [-0.31, -0.27, -0.23, -0.19]), (58, [-0.40, -0.33, -0.29, -0.25]),
    (59, [-0.36, -0.31, -0.27]), (60, [-0.38, -0.33, -0.28]), (61, [-0.39, -0.34, -0.29, -0.26]),
    (62, [-0.38, -0.32, -0.28]), (63, [-0.42, -0.37, -0.33]), (64, [-0.40, -0.35, -0.28]),
    (65, [-0.54, -0.51, -0.44, -0.39, -0.34]), (66, [-0.46, -0.41, -0.37, -0.32]),
    (67, [-0.44, -0.38, -0.34]), (68, [-0.46, -0.41, -0.36]), (69, [-0.43, -0.38, -0.35]),
    (70, [-0.54, -0.43, -0.36, -0.30]), (71, [-0.45, -0.40]), (72, [-0.48, -0.42]),
    (73, [-0.44, -0.33]), (74, [-0.46, -0.42, -0.35]), (75, [-0.59, -0.50, -0.44, -0.36]),
    (76, [-0.48, -0.44, -0.39]), (77, [-0.50, -0.46, -0.40]), (78, [-0.56, -0.49, -0.45, -0.40]),
    (79, [-0.47, -0.44]), (80, [-0.50, -0.46, -0.45]), (81, [-0.57, -0.44]), (82, [-0.39]),
    (83, [-0.42, -0.47]), (84, [-0.52, -0.54, -0.55]), (86, [-0.46]), (87, [-0.45, -0.47]),
    (88, [-0.47]), (89, [-0.46, -0.51]), (90, [-0.42]), (91, [-0.58]), (92, [-0.57]),
    (102, [-0.52, -0.78]), (136, [-0.45]),
]
HDL_CURVE_X = [-2.6, 0, 5, 10, 14, 17, 19, 21, 23, 25, 27, 29, 31, 33, 35, 37, 39, 41, 43, 45,
               47, 49, 51, 53, 55, 57, 60, 63, 66, 70, 74, 78, 82, 86, 90, 94, 98, 101, 104, 108,
               112, 116, 119, 122, 126, 130, 134, 137, 140, 142.5]
HDL_CURVE_Y = [-0.088, -0.075, -0.057, -0.039, -0.026, -0.012, 0.01, 0.041, 0.077, 0.117, 0.17,
               0.211, 0.233, 0.24, 0.235, 0.22, 0.193, 0.157, 0.117, 0.054, -0.017, -0.088,
               -0.151, -0.204, -0.254, -0.294, -0.343, -0.383, -0.401, -0.419, -0.441, -0.468,
               -0.474, -0.468, -0.486, -0.517, -0.544, -0.535, -0.49, -0.41, -0.347, -0.316,
               -0.312, -0.329, -0.379, -0.414, -0.434, -0.432, -0.414, -0.392]
HDL_HIST = [0.004, 0.013, 0.03, 0.054, 0.062, 0.101, 0.088, 0.07, 0.102, 0.087, 0.058, 0.048,
            0.043, 0.026, 0.018, 0.027, 0.0076, 0.0076, 0.007, 0.013, 0.005, 0.003]
HDL_BIN = (19.5, 3)

# ***** axes ***** #
X_RANGES = [[14.4, 94.7], [-0.5, 1.5], [-0.5, 1.5], [-0.5, 1.5],
            [-7.8, 167.9], [12.9, 63.6], [-13.8, 379], [-48, 1050],
            [-0.114, 2.461], [4.49, 15.5], [-40.8, 948], [-2.6, 142.5]]
Y_RANGES = [[-1.609, 0.682], [-0.527, 0.413], [-0.70, 0.318], [-0.316, 0.495],
            [-0.153, 0.488], [-1.297, 1.045], [-0.531, 0.50], [-0.355, 0.645],
            [-3.62, 1.01], [-0.378, 1.22], [-0.486, 0.649], [-0.831, 0.349]]
BIN_TICKS = [-0.5, -0.25, 0, 0.25, 0.5, 0.75, 1.0, 1.25, 1.5]
X_TICKS = [[20, 30, 40, 50, 60, 70, 80, 90], BIN_TICKS, BIN_TICKS, BIN_TICKS,
           [0, 20, 40, 60, 80, 100, 120, 140, 160], [20, 30, 40, 50, 60],
           [0, 50, 100, 150, 200, 250, 300, 350], [0, 200, 400, 600, 800, 1000],
           [0, 0.5, 1.0, 1.5, 2.0], [6, 8, 10, 12, 14], [0, 200, 400, 600, 800],
           [0, 20, 40, 60, 80, 100, 120, 140]]
X_FORMATS = ["d", ".2f", ".2f", ".2f", "d", "d", "d", "d", ".1f", "d", "d", "d"]
Y_TICKS = [[-1.5, -1.0, -0.5, 0, 0.5], [-0.4, -0.2, 0, 0.2, 0.4], [-0.6, -0.4, -0.2, 0, 0.2],
           [-0.3, -0.2, -0.1, 0, 0.1, 0.2, 0.3, 0.4], [-0.1, 0, 0.1, 0.2, 0.3, 0.4],
           [-1.0, -0.5, 0, 0.5, 1.0], [-0.4, -0.2, 0, 0.2, 0.4], [-0.2, 0, 0.2, 0.4, 0.6],
           [-3, -2, -1, 0, 1], [-0.2, 0, 0.2, 0.4, 0.6, 0.8, 1.0, 1.2],
           [-0.4, -0.2, 0, 0.2, 0.4, 0.6], [-0.8, -0.6, -0.4, -0.2, 0, 0.2]]
Y_FORMATS = [".1f"] * 8 + ["d", ".1f", ".1f", ".1f"]

COL_DOMAINS = [[0.0378, 0.2457], [0.2872, 0.4955], [0.5372, 0.7453], [0.7868, 0.9949]]
ROW_DOMAINS = [[0.718, 1.0], [0.3799, 0.6619], [0.041, 0.3225]]


def expand(cols):
    xs, ys = [], []
    for x, vals in cols:
        for v in vals:
            xs.append(x)
            ys.append(v)
    return xs, ys


def cluster(level, rows):
    xs, ys = [], []
    for r in rows:
        for j in JITTER:
            xs.append(level + j)
            ys.append(r)
    return xs, ys


def binary_panel(rows0, rows1, ex_x, ex_y, line_y, hist):
    x0, y0 = cluster(0, rows0)
    x1, y1 = cluster(1, rows1)
    return dict(px=x0 + x1 + ex_x, py=y0 + y1 + ex_y, cx=[0, 1], cy=line_y,
                hist=hist, bins=(0, 1), shape="linear")


def curve_panel(pts, cx, cy, hist, bins):
    px_, py_ = expand(pts)
    return dict(px=px_, py=py_, cx=cx, cy=cy, hist=hist, bins=bins, shape="spline")


PANELS = [
    curve_panel(AGE_PTS, AGE_CURVE_X, AGE_CURVE_Y, AGE_HIST, AGE_BIN),
    binary_panel(SEX_ROWS_0, SEX_ROWS_1, SEX_EXTRA_X, SEX_EXTRA_Y, SEX_LINE_Y, SEX_HIST),
    binary_panel(HYP_ROWS_0, HYP_ROWS_1, HYP_EXTRA_X, HYP_EXTRA_Y, HYP_LINE_Y, HYP_HIST),
    binary_panel(DM_ROWS_0, DM_ROWS_1, DM_EXTRA_X, DM_EXTRA_Y, DM_LINE_Y, DM_HIST),
    curve_panel(SMK_PTS, SMK_CURVE_X, SMK_CURVE_Y, SMK_HIST, SMK_BIN),
    curve_panel(HCT_PTS, HCT_CURVE_X, HCT_CURVE_Y, HCT_HIST, HCT_BIN),
    curve_panel(CC_PTS, CC_CURVE_X, CC_CURVE_Y, CC_HIST, CC_BIN),
    curve_panel(LDH_PTS, LDH_CURVE_X, LDH_CURVE_Y, LDH_HIST, LDH_BIN),
    curve_panel(TNT_PTS, TNT_CURVE_X, TNT_CURVE_Y, TNT_HIST, TNT_BIN),
    curve_panel(HBA_PTS, HBA_CURVE_X, HBA_CURVE_Y, HBA_HIST, HBA_BIN),
    curve_panel(TG_PTS, TG_CURVE_X, TG_CURVE_Y, TG_HIST, TG_BIN),
    curve_panel(HDL_PTS, HDL_CURVE_X, HDL_CURVE_Y, HDL_HIST, HDL_BIN),
]


def ref(kind, n):
    return kind if n == 1 else f"{kind}{n}"


tick_font = dict(family=FONT, size=33, color=INK)
title_font = dict(family=FONT, size=38, color=INK)

fig = go.Figure()
layout = {}
for i, (name, pan) in enumerate(zip(FEATURES, PANELS)):
    n = i + 1
    m = i + 13
    row, col = divmod(i, 4)
    # histogram sits on a hidden base axis so it is drawn behind the points
    fig.add_trace(go.Bar(y=pan["hist"], x0=pan["bins"][0], dx=pan["bins"][1],
                         width=pan["bins"][1], marker=dict(color=GREY, line=dict(width=0)),
                         xaxis=ref("x", n), yaxis=ref("y", n), showlegend=False,
                         hoverinfo="skip"))
    fig.add_trace(go.Scatter(x=pan["px"], y=pan["py"], mode="markers",
                             marker=dict(color=BLUE, size=12.5, line=dict(width=0)),
                             xaxis=ref("x", n), yaxis=ref("y", m), showlegend=False))
    fig.add_trace(go.Scatter(x=pan["cx"], y=pan["cy"], mode="lines",
                             line=dict(color=RED, width=4.5, shape=pan["shape"], smoothing=1.0),
                             xaxis=ref("x", n), yaxis=ref("y", m), showlegend=False))

    layout[ref("xaxis", n)] = dict(
        domain=COL_DOMAINS[col], range=X_RANGES[i], anchor=ref("y", n),
        showline=True, linecolor=INK, linewidth=2.4, mirror=False,
        ticks="outside", ticklen=9, tickwidth=2.4, tickcolor=INK,
        tickvals=X_TICKS[i], tickformat=X_FORMATS[i], tickfont=tick_font,
        title=dict(text=name, font=title_font, standoff=16),
        showgrid=False, zeroline=False, automargin=False)
    layout[ref("yaxis", n)] = dict(
        domain=ROW_DOMAINS[row], range=[0, 1], anchor=ref("x", n), visible=False,
        showgrid=False, zeroline=False)
    layout[ref("yaxis", m)] = dict(
        overlaying=ref("y", n), anchor=ref("x", n), side="left", range=Y_RANGES[i],
        showline=True, linecolor=INK, linewidth=2.4, mirror=False,
        ticks="outside", ticklen=9, tickwidth=2.4, tickcolor=INK,
        tickvals=Y_TICKS[i], tickformat=Y_FORMATS[i], tickfont=tick_font,
        title=dict(text="SHAP value for<br>" + name, font=title_font, standoff=3),
        showgrid=False, zeroline=False, automargin=False)

fig.update_layout(
    width=4080, height=2440,
    margin=dict(l=0, r=0, t=0, b=0),
    paper_bgcolor="white", plot_bgcolor="white",
    bargap=0, showlegend=False,
    font=dict(family=FONT, color=INK),
    **layout,
)

fig.write_html("out.html")
